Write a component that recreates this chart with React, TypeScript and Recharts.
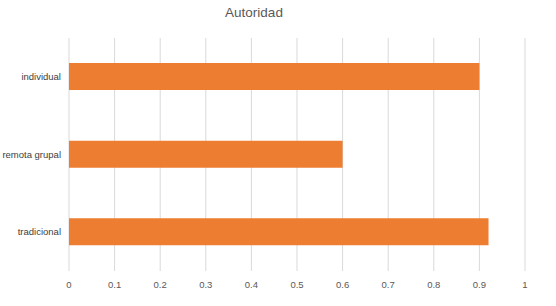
import { BarChart, Bar, XAxis, YAxis, CartesianGrid } from 'recharts';

const categories = ['individual', 'remota grupal', 'tradicional'];
const values = [0.9, 0.6, 0.92];
const xTicks = [0, 0.1, 0.2, 0.3, 0.4, 0.5, 0.6, 0.7, 0.8, 0.9, 1];

const data = categories.map((name, i) => ({ name, value: values[i] }));

const font = '"Liberation Sans", Arial, sans-serif';

// plain tick so "remota grupal" stays on one line
const CategoryTick = (props: any) => {
  const { x, y, payload } = props;
  return (
    <text x={x} y={y} dy="0.35em" textAnchor="end" fontSize={9.5} fill="#404040" fontFamily={font}>
      {payload.value}
    </text>
  );
};

export default function App() {
  return (
    <div style={{ position: 'absolute', left: 0, top: 0, width: 556, height: 306, background: '#fff', fontFamily: font }}>
      <div
        style={{
          position: 'absolute',
          top: 5,
          left: 0,
          width: 508,
          textAlign: 'center',
          fontSize: 13.5,
          color: '#595959',
        }}
      >
        Autoridad
      </div>
      <BarChart
        width={556}
        height={306}
        data={data}
        layout="vertical"
        margin={{ top: 38, right: 31, left: 0, bottom: 0 }}
        barSize={27}
      >
        <CartesianGrid horizontal={false} stroke="#d9d9d9" />
        <XAxis
          type="number"
          domain={[0, 1]}
          ticks={xTicks}
          interval={0}
          axisLine={false}
          tickLine={false}
          height={35}
          tickMargin={4}
          tick={{ fontSize: 9.5, fill: '#595959', fontFamily: font }}
        />
        <YAxis
          type="category"
          dataKey="name"
          width={69}
          axisLine={false}
          tickLine={false}
          tick={<CategoryTick />}
        />
        <Bar dataKey="value" fill="#ED7D31" isAnimationActive={false} />
      </BarChart>
    </div>
  );
}
